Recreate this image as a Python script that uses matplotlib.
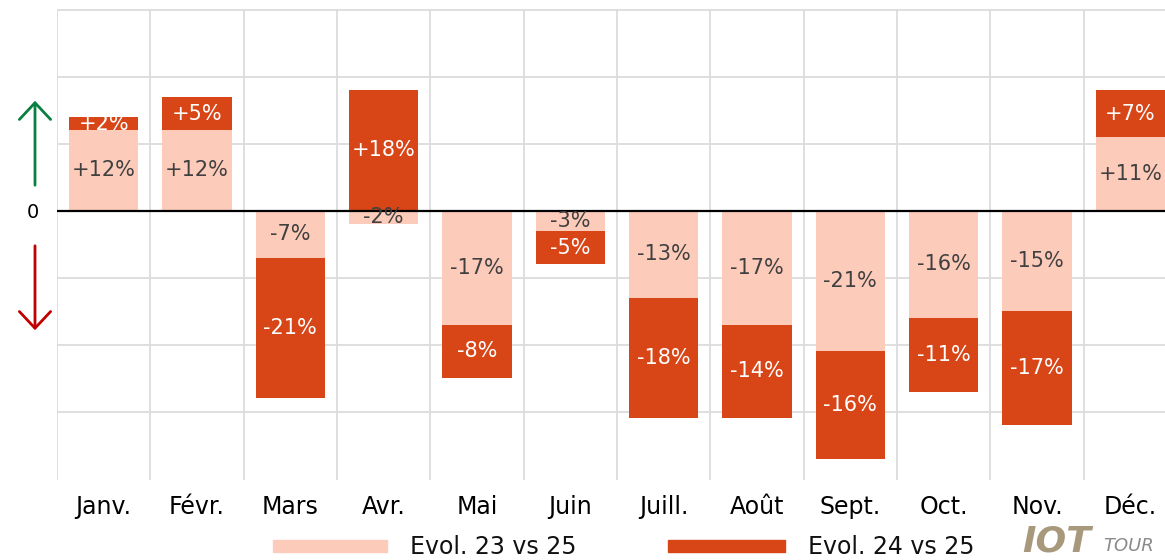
import matplotlib
matplotlib.use("Agg")
import matplotlib.pyplot as plt
from matplotlib.patches import Rectangle, FancyArrowPatch

months = ["Janv.", "Févr.", "Mars", "Avr.", "Mai", "Juin", "Juill.", "Août", "Sept.", "Oct.", "Nov.", "Déc."]
evol_23_25 = [12, 12, -7, -2, -17, -3, -13, -17, -21, -16, -15, 11]
evol_24_25 = [2, 5, -21, 18, -8, -5, -18, -14, -16, -11, -17, 7]
series_names = ["Evol. 23 vs 25", "Evol. 24 vs 25"]

LIGHT = "#fdcbba"
DARK = "#d84516"
W, H = 1165, 560

plt.rcParams['font.family'] = ['DejaVu Sans']
fig = plt.figure(figsize=(W / 100, H / 100), dpi=100)
ax = fig.add_axes([57 / W, 80 / H, (1177 - 57) / W, (480 - 9) / H])

x = list(range(len(months)))
bw = 0.74

# stacking separately for positive / negative
base_light = [0] * len(x)
base_dark = [l if (l >= 0) == (d >= 0) else 0 for l, d in zip(evol_23_25, evol_24_25)]

ax.bar(x, evol_23_25, bw, bottom=base_light, color=LIGHT, zorder=2)
ax.bar(x, evol_24_25, bw, bottom=base_dark, color=DARK, zorder=2)

for i in x:
    l = evol_23_25[i]
    d = evol_24_25[i]
    ax.text(i, l / 2, f"{l:+d}%", ha="center", va="center", fontsize=15,
            color="#404040", zorder=4)
    ax.text(i, base_dark[i] + d / 2, f"{d:+d}%", ha="center", va="center", fontsize=15,
            color="white", zorder=4)

ax.set_xlim(-0.5, 11.5)
ax.set_ylim(-40.2, 30.1)
ax.axhline(0, color="black", lw=1.6, zorder=3)

ax.set_yticks([-30, -20, -10, 0, 10, 20, 30])
ax.set_yticklabels(["", "", "", "0", "", "", ""], fontsize=14)
ax.set_xticks(x)
ax.set_xticklabels(months, fontsize=17)
ax.set_xticks([i - 0.5 for i in range(13)], minor=True)
ax.tick_params(axis="both", which="both", length=0)
ax.tick_params(axis="x", pad=11)
ax.tick_params(axis="y", pad=13)
ax.grid(axis="y", which="major", color="#dcdcdc", lw=1.3, zorder=0)
ax.grid(axis="x", which="minor", color="#dcdcdc", lw=1.3, zorder=0)
ax.grid(axis="x", which="major", visible=False)
for s in ax.spines.values():
    s.set_visible(False)

def fx(px):
    return px / W

def fy(py):
    return 1 - py / H

# arrows
fig.add_artist(FancyArrowPatch((fx(35), fy(188)), (fx(35), fy(98)),
                               transform=fig.transFigure,
                               arrowstyle="->,head_length=8,head_width=7.5",
                               color="#0a8040", lw=2.0, mutation_scale=1.5))
fig.add_artist(FancyArrowPatch((fx(35), fy(243)), (fx(35), fy(333)),
                               transform=fig.transFigure,
                               arrowstyle="->,head_length=8,head_width=7.5",
                               color="#c00000", lw=2.0, mutation_scale=1.5))

# legend
for (x0, x1, tx, col, name) in [(273, 387, 410, LIGHT, series_names[0]),
                                (668, 785, 808, DARK, series_names[1])]:
    fig.add_artist(Rectangle((fx(x0), fy(552)), fx(x1 - x0), 12 / H,
                             transform=fig.transFigure, color=col))
    fig.text(fx(tx), fy(547), name, fontsize=17, va="center", ha="left", color="#111111")

# logo
fig.text(fx(1022), fy(551), "IOT", fontsize=26, fontweight="bold", style="italic",
         color="#a8987c", va="baseline", ha="left")
fig.text(fx(1103), fy(551), "TOUR", fontsize=13, style="italic",
         color="#8a8a8a", va="baseline", ha="left")

fig.savefig("out.png", dpi=100)
